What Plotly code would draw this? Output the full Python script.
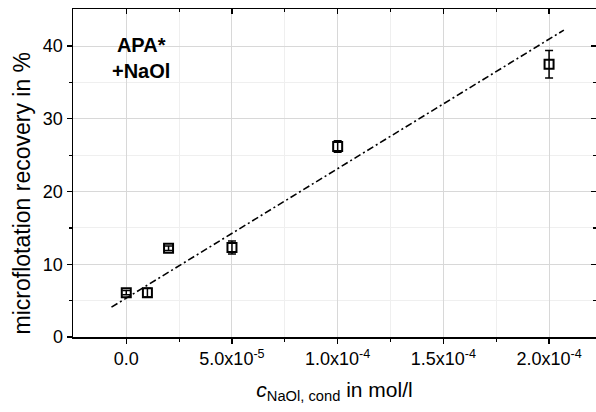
import plotly.graph_objects as go

# data
conc = [0.0, 1e-5, 2e-5, 5e-5, 1e-4, 2e-4]
recovery = [6.1, 6.1, 12.2, 12.3, 26.2, 37.5]
recovery_err = [0.3, 0.6, 0.3, 0.9, 0.8, 1.9]

fit_x = [-7e-6, 2.07e-4]
fit_y = [4.1, 42.2]

x_tickvals = [0.0, 5e-5, 1e-4, 1.5e-4, 2e-4]
x_ticktext = ["0.0", "5.0x10<sup>-5</sup>", "1.0x10<sup>-4</sup>",
              "1.5x10<sup>-4</sup>", "2.0x10<sup>-4</sup>"]
y_tickvals = [0, 10, 20, 30, 40]

x_range = [-2.52e-5, 2.222e-4]
y_range = [0, 45.1]

FONT = "Liberation Sans, Arial, sans-serif"

fig = go.Figure()

fig.add_trace(go.Scatter(
    x=fit_x, y=fit_y, mode="lines",
    line=dict(color="black", width=1.6, dash="7px,3px,2px,3px"),
    showlegend=False, hoverinfo="skip"))

fig.add_trace(go.Scatter(
    x=conc, y=recovery, mode="markers",
    marker=dict(symbol="square-open", size=9, color="black",
                line=dict(color="black", width=2)),
    error_y=dict(type="data", array=recovery_err, visible=True,
                 color="black", thickness=1.5, width=4),
    showlegend=False, hoverinfo="skip"))

fig.add_annotation(
    x=0.13, y=0.93, xref="paper", yref="paper", xanchor="center", yanchor="top",
    text="<b>APA*</b><br><b>+NaOl</b>", showarrow=False, align="center",
    font=dict(family=FONT, size=20, color="black"))

# y-axis title (placed as rotated annotation to match reference position)
fig.add_annotation(
    x=-0.098, y=0.44, xref="paper", yref="paper", xanchor="center", yanchor="middle",
    text="microflotation recovery in %", showarrow=False, textangle=-90,
    font=dict(family=FONT, size=23, color="black"))

fig.update_layout(
    width=596, height=412,
    margin=dict(l=73, r=0, t=9, b=75),
    paper_bgcolor="white", plot_bgcolor="white",
    font=dict(family=FONT, color="black"),
    hovermode=False,
    xaxis=dict(
        range=x_range, tickvals=x_tickvals, ticktext=x_ticktext,
        automargin=False,
        ticks="outside", ticklen=5, tickwidth=1.2, tickcolor="black",
        showline=True, linecolor="black", linewidth=1.5,
        showgrid=True, gridcolor="#d8d8d8", gridwidth=1, zeroline=False,
        tickfont=dict(size=18, family=FONT),
        minor=dict(tickvals=[2.5e-5, 7.5e-5, 1.25e-4, 1.75e-4], ticks="outside",
                   ticklen=3, tickcolor="black", showgrid=True,
                   gridcolor="#efefef", gridwidth=1),
        title=dict(text="<i>c</i><sub>NaOl, cond</sub> in mol/l",
                   font=dict(size=21, family=FONT), standoff=14),
    ),
    yaxis=dict(
        range=y_range, tickvals=y_tickvals,
        automargin=False,
        ticks="outside", ticklen=5, tickwidth=1.2, tickcolor="black",
        showline=True, linecolor="black", linewidth=1.5,
        showgrid=True, gridcolor="#d8d8d8", gridwidth=1, zeroline=False,
        tickfont=dict(size=18, family=FONT),
        minor=dict(tickvals=[5, 15, 25, 35], ticks="outside", ticklen=3,
                   tickcolor="black", showgrid=True, gridcolor="#efefef",
                   gridwidth=1),
    ),
    xaxis2=dict(
        overlaying="x", side="top", range=x_range, tickvals=x_tickvals,
        automargin=False,
        showticklabels=False, ticks="inside", ticklen=5, tickwidth=1.2,
        tickcolor="black", showline=True, linecolor="black", linewidth=1.5,
        showgrid=False, zeroline=False,
        minor=dict(tickvals=[2.5e-5, 7.5e-5, 1.25e-4, 1.75e-4], ticks="inside",
                   ticklen=3, tickcolor="black", showgrid=False),
    ),
    yaxis2=dict(
        overlaying="y", side="right", range=y_range, tickvals=y_tickvals,
        automargin=False,
        showticklabels=False, ticks="inside", ticklen=5, tickwidth=1.2,
        tickcolor="black", showline=True, linecolor="black", linewidth=1.5,
        showgrid=False, zeroline=False,
        minor=dict(tickvals=[5, 15, 25, 35], ticks="inside", ticklen=3,
                   tickcolor="black", showgrid=False),
    ),
)

# dummy trace to activate overlay axes
fig.add_trace(go.Scatter(x=[None], y=[None], xaxis="x2", yaxis="y2",
                         showlegend=False, hoverinfo="skip"))

fig.write_html(
    "out.html",
    config={"displayModeBar": False, "staticPlot": True},
    post_script="document.body.style.margin='0';document.body.style.overflow='hidden';",
)
